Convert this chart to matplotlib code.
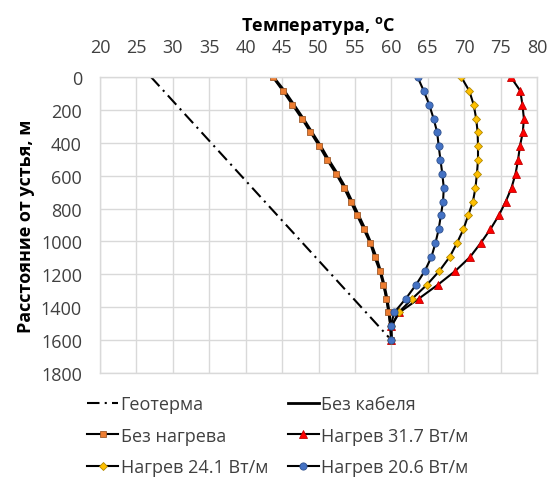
import matplotlib
matplotlib.use("Agg")
import matplotlib.pyplot as plt

plt.rcParams['font.family'] = ['Open Sans', 'DejaVu Sans']
plt.rcParams['mathtext.fontset'] = 'custom'
plt.rcParams['mathtext.rm'] = 'Open Sans'
plt.rcParams['mathtext.bf'] = 'Open Sans:bold'

# Depth, m
depth = [0, 84, 168, 253, 337, 421, 505, 589, 674, 758, 842, 926, 1011, 1095,
         1179, 1263, 1347, 1432, 1516, 1600]

geo_depth = [0, 1600]
geo_temp = [27.0, 60.0]

no_cable = [43.8, 45.3, 46.6, 47.9, 49.1, 50.3, 51.4, 52.6, 53.7, 54.6, 55.5,
            56.4, 57.2, 57.9, 58.5, 59.0, 59.4, 59.7, 59.9, 60.0]
no_heat = [43.7, 45.1, 46.4, 47.7, 48.9, 50.1, 51.2, 52.4, 53.5, 54.4, 55.3,
           56.2, 57.1, 57.7, 58.4, 58.9, 59.3, 59.6, 59.9, 60.0]
heat_317 = [76.4, 77.7, 78.0, 78.2, 78.05, 77.65, 77.4, 77.05, 76.5, 75.7, 74.75,
            73.6, 72.25, 70.8, 68.8, 66.4, 63.8, 61.1, 60.0, 60.0]
heat_241 = [69.6, 70.7, 71.3, 71.65, 71.85, 71.9, 71.9, 71.75, 71.55, 71.2, 70.55,
            69.9, 69.0, 68.0, 66.6, 64.9, 62.9, 61.0, 60.0, 60.0]
heat_206 = [63.6, 64.45, 65.2, 65.8, 66.3, 66.5, 66.75, 67.0, 67.2, 67.1, 66.8,
            66.5, 66.05, 65.5, 64.6, 63.4, 62.0, 60.4, 59.9, 60.0]

x_ticks = list(range(20, 81, 5))
y_ticks = list(range(0, 1801, 200))

FS = 13

fig = plt.figure(figsize=(5.52, 4.85), dpi=100)
ax = fig.add_axes([100/552, 1-374/485, 437/552, 296/485])

h_geo, = ax.plot(geo_temp, geo_depth, color='black', lw=1.5,
                 linestyle=(0, (6, 2.5, 1, 2.5)), label='Геотерма')
h_nc, = ax.plot(no_cable, depth, color='black', lw=2.0, label='Без кабеля')
h_nh, = ax.plot(no_heat, depth, color='black', lw=1.5, marker='s', ms=5.0,
                mfc='#ED7D31', mec='#9E5A2A', mew=0.6, label='Без нагрева')
h_31, = ax.plot(heat_317, depth, color='black', lw=1.5, marker='^', ms=5.4,
                mfc='#FF0000', mec='#C00000', mew=0.6, label='Нагрев 31.7 Вт/м')
h_24, = ax.plot(heat_241, depth, color='black', lw=1.5, marker='D', ms=4.4,
                mfc='#FFC000', mec='#B08800', mew=0.6, label='Нагрев 24.1 Вт/м')
h_20, = ax.plot(heat_206, depth, color='black', lw=1.5, marker='o', ms=5.2,
                mfc='#4472C4', mec='#2F528F', mew=0.6, label='Нагрев 20.6 Вт/м')

ax.set_xlim(20, 80)
ax.set_ylim(1800, 0)
ax.set_xticks(x_ticks)
ax.set_yticks(y_ticks)
ax.xaxis.tick_top()
ax.xaxis.set_label_position('top')
ax.tick_params(axis='both', length=0, labelsize=FS, colors='#404040')
ax.tick_params(axis='x', pad=15)
ax.tick_params(axis='y', pad=13)
ax.grid(True, color='#D9D9D9', lw=1.0)
ax.set_axisbelow(True)
for s in ax.spines.values():
    s.set_color('#D9D9D9')
    s.set_linewidth(1.0)

ax.set_xlabel(r'Температура, $^{\mathbf{o}}$C', fontsize=FS, fontweight='bold',
              labelpad=6)
ax.set_ylabel('Расстояние от устья, м', fontsize=FS, fontweight='bold', labelpad=4)

handles = [h_geo, h_nh, h_24, h_nc, h_31, h_20]
labels = [h.get_label() for h in handles]
fig.legend(handles, labels, ncol=2, loc='upper left',
           bbox_to_anchor=(80/552, 1-389/485), frameon=False, fontsize=FS,
           handlelength=1.7, handletextpad=0.15, columnspacing=1.1,
           labelspacing=0.75, labelcolor='#404040', borderaxespad=0.0)

fig.savefig('out.png', dpi=100)
